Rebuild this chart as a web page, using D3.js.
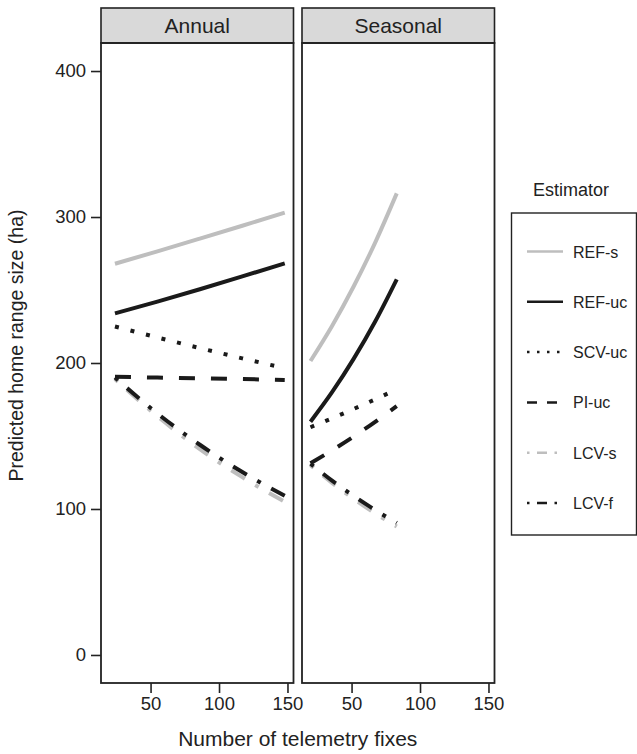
<!DOCTYPE html>
<html>
<head>
<meta charset="utf-8">
<script src="https://cdn.jsdelivr.net/npm/d3@7"></script>
<style>
  body { margin: 0; background: #fff; }
  text { font-family: "Liberation Sans", Arial, sans-serif; fill: #222; }
</style>
</head>
<body>
<div class="chart"></div>
<script>
// === Data ===
const panels = ["Annual", "Seasonal"];
const estimators = ["REF-s", "REF-uc", "SCV-uc", "PI-uc", "LCV-s", "LCV-f"];
const annualFixes = [24, 55, 86, 117, 148];
const seasonalFixes = [20, 35.75, 51.5, 67.25, 83];
// rows follow the estimators order
const annualSize = [
  [268, 276.5, 285.2, 294, 303],
  [234, 242, 250.5, 259.3, 268.3],
  [225, 217.5, 210.2, 203.2, 196.4],
  [190.6, 190, 189.5, 189, 188.4],
  [189, 163.5, 141, 121.8, 105],
  [190, 165.4, 144, 125.3, 109]
];
const seasonalSize = [
  [201.4, 225.4, 252.4, 282.5, 316.2],
  [159.8, 180, 202.8, 228.4, 257.3],
  [156, 162.1, 168.5, 175.1, 182],
  [131.3, 140.2, 149.6, 159.7, 170.5],
  [130, 117.9, 107, 97, 88],
  [131, 119.4, 108.9, 99.3, 90.5]
];
const yTicks = [0, 100, 200, 300, 400];
const xTicks = [50, 100, 150];

// === Layout ===
const width = 637, height = 754;
const panelW = 192.5;
const panelX = [101, 302];
const stripTop = 8, plotTop = 43, plotBottom = 683;

const svg = d3.select(".chart").append("svg")
    .attr("width", width)
    .attr("height", height);

const xScale = d3.scaleLinear().domain([13.8, 154.4]).range([0, panelW]);
const yScale = d3.scaleLinear().domain([-19.2, 419.2]).range([plotBottom, plotTop]);

const gray = "#bebebe", black = "#1a1a1a";
const style = {
  "REF-s":  {color: gray,  dash: null},
  "REF-uc": {color: black, dash: null},
  "SCV-uc": {color: black, dash: [1, 3]},
  "PI-uc":  {color: black, dash: [4, 4]},
  "LCV-s":  {color: gray,  dash: [1, 3, 4, 3]},
  "LCV-f":  {color: black, dash: [1, 3, 4, 3]}
};
function dashFor(name, lw) {
  const d = style[name].dash;
  return d ? d.map(v => v * lw).join(",") : null;
}

const line = d3.line()
    .curve(d3.curveMonotoneX)
    .x(d => xScale(d[0]))
    .y(d => yScale(d[1]));

const fixesByPanel = [annualFixes, seasonalFixes];
const sizeByPanel = [annualSize, seasonalSize];

panels.forEach((p, i) => {
  const g = svg.append("g")
      .attr("transform", "translate(" + panelX[i] + ",0)");

  // strip
  g.append("rect")
      .attr("x", 0).attr("y", stripTop)
      .attr("width", panelW).attr("height", plotTop - stripTop)
      .attr("fill", "#d9d9d9")
      .attr("stroke", "#222").attr("stroke-width", 1.6);
  g.append("text")
      .attr("x", panelW / 2).attr("y", 33)
      .attr("text-anchor", "middle")
      .attr("font-size", "21px")
      .text(p);

  // lines
  estimators.forEach((name, k) => {
    const pts = fixesByPanel[i].map((f, j) => [f, sizeByPanel[i][k][j]]);
    g.append("path")
        .attr("d", line(pts))
        .attr("fill", "none")
        .attr("stroke", style[name].color)
        .attr("stroke-width", 4)
        .attr("stroke-dasharray", dashFor(name, 4));
  });

  // panel box
  g.append("rect")
      .attr("x", 0).attr("y", plotTop)
      .attr("width", panelW).attr("height", plotBottom - plotTop)
      .attr("fill", "none")
      .attr("stroke", "#222").attr("stroke-width", 1.8);

  // x axis
  const xAxis = d3.axisBottom(xScale).tickValues(xTicks).tickSize(10).tickPadding(4);
  const xg = g.append("g")
      .attr("transform", "translate(0," + plotBottom + ")")
      .call(xAxis);
  xg.select(".domain").remove();
  xg.selectAll("line").attr("stroke", "#222").attr("stroke-width", 1.6);
  xg.selectAll("text").attr("font-size", "18.5px").attr("fill", "#222");
});

// y axis
const yAxis = d3.axisLeft(yScale).tickValues(yTicks).tickSize(10).tickPadding(5);
const yg = svg.append("g")
    .attr("transform", "translate(" + panelX[0] + ",0)")
    .call(yAxis);
yg.select(".domain").remove();
yg.selectAll("line").attr("stroke", "#222").attr("stroke-width", 1.6);
yg.selectAll("text").attr("font-size", "18.5px").attr("fill", "#222");

// axis titles
svg.append("text")
    .attr("x", (panelX[0] + panelX[1] + panelW) / 2)
    .attr("y", 746)
    .attr("text-anchor", "middle")
    .attr("font-size", "21px")
    .text("Number of telemetry fixes");

svg.append("text")
    .attr("transform", "translate(23," + (stripTop + plotBottom) / 2 + ") rotate(-90)")
    .attr("text-anchor", "middle")
    .attr("font-size", "19.5px")
    .text("Predicted home range size (ha)");

// legend
svg.append("text")
    .attr("x", 571).attr("y", 196)
    .attr("text-anchor", "middle")
    .attr("font-size", "18px")
    .text("Estimator");

svg.append("rect")
    .attr("x", 511.5).attr("y", 213)
    .attr("width", 125).attr("height", 322)
    .attr("fill", "none")
    .attr("stroke", "#222").attr("stroke-width", 1.4);

const legendY = d3.scalePoint().domain(estimators).range([251.5, 503]);
const lg = svg.selectAll(".legend-item")
    .data(estimators)
    .enter()
    .append("g")
    .attr("class", "legend-item")
    .attr("transform", d => "translate(0," + legendY(d) + ")");
lg.append("line")
    .attr("x1", 527).attr("x2", 563)
    .attr("stroke", d => style[d].color)
    .attr("stroke-width", 2.5)
    .attr("stroke-dasharray", d => dashFor(d, 2.5));
lg.append("text")
    .attr("x", 573).attr("y", 6)
    .attr("font-size", "16px")
    .text(d => d);
</script>
</body>
</html>
